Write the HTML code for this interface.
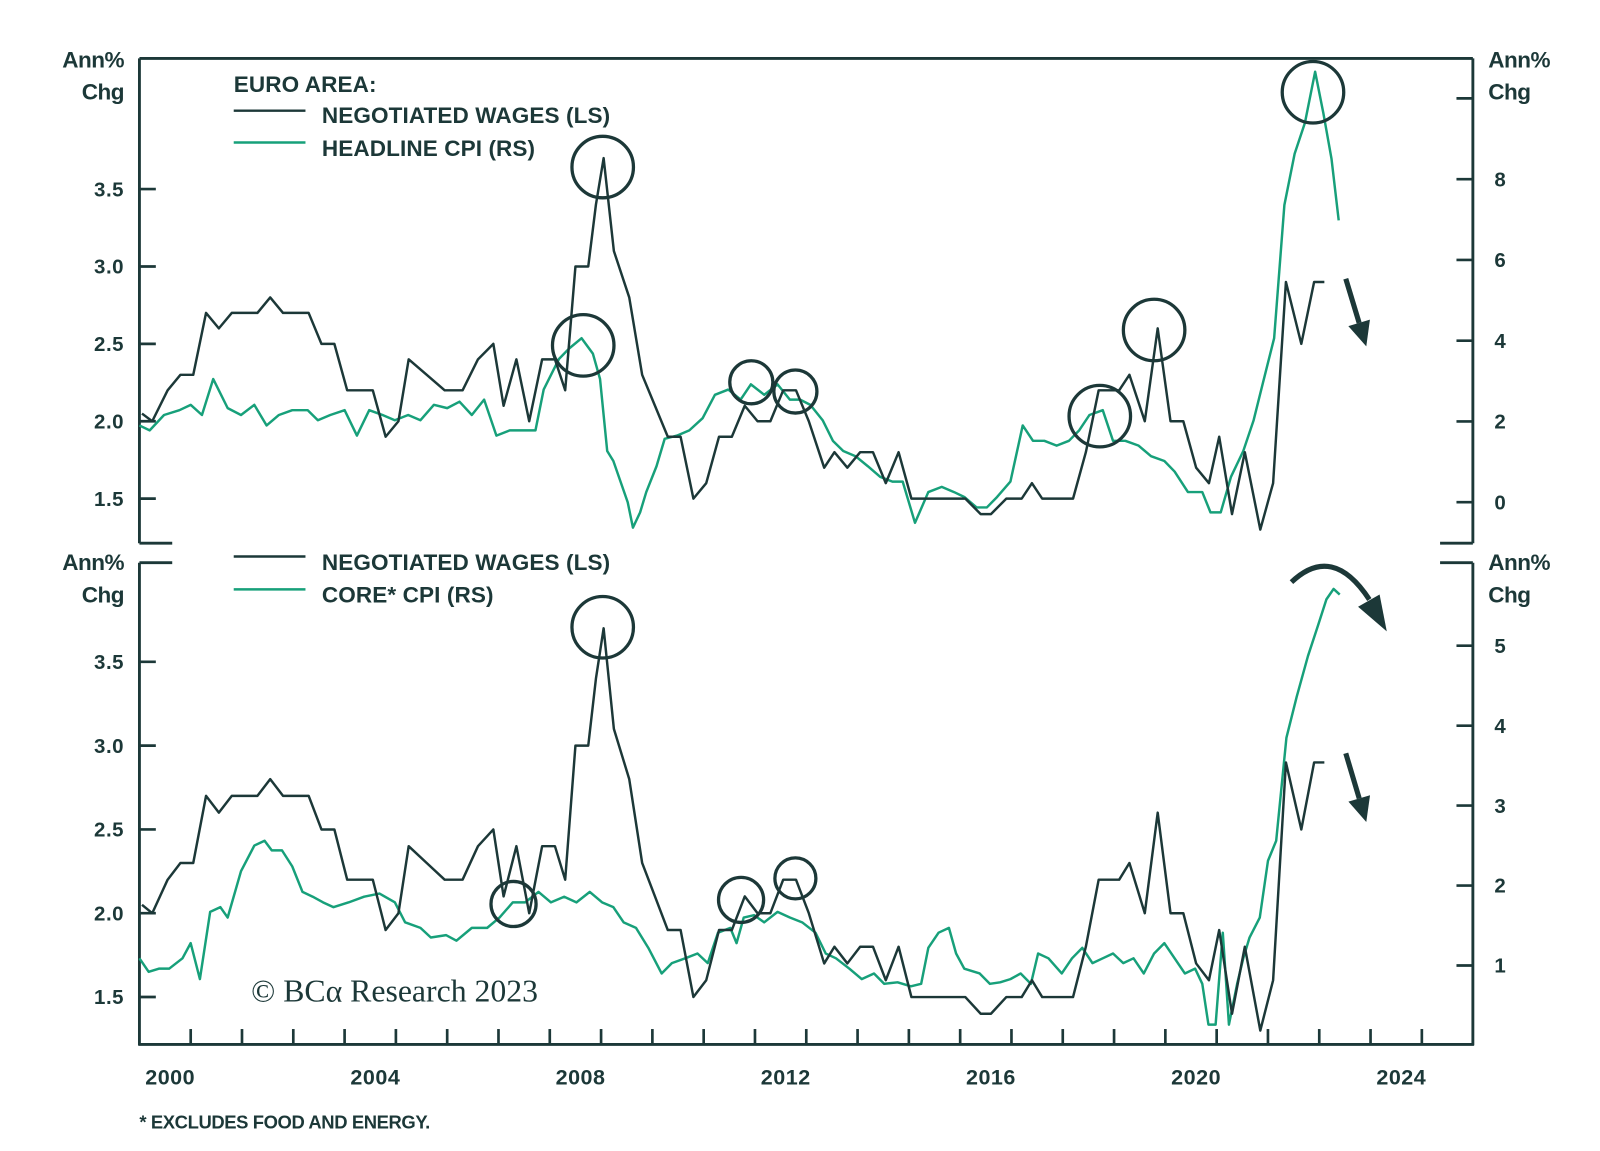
<!DOCTYPE html>
<html><head><meta charset="utf-8"><style>
html,body{margin:0;padding:0;background:#fff;}
svg{display:block;}
text{font-family:"Liberation Sans",sans-serif;font-weight:bold;fill:#1c3838;}
</style></head><body>
<svg id="chart" width="1600" height="1151" viewBox="0 0 1561 1123" xmlns="http://www.w3.org/2000/svg"></svg>
<script>
// ---- data ----
const wageYears = [1999.45,1999.65,1999.95,2000.2,2000.45,2000.7,2000.95,2001.2,2001.7,2001.95,2002.2,2002.7,2002.95,2003.2,2003.45,2003.95,2004.2,2004.45,2004.65,2005.0,2005.35,2005.7,2006.0,2006.3,2006.5,2006.75,2007.0,2007.25,2007.5,2007.7,2007.9,2008.15,2008.3,2008.45,2008.65,2008.95,2009.2,2009.45,2009.7,2009.95,2010.2,2010.45,2010.7,2010.95,2011.2,2011.45,2011.7,2011.95,2012.2,2012.45,2012.75,2012.95,2013.2,2013.45,2013.7,2013.95,2014.2,2014.45,2014.7,2015.2,2015.5,2015.8,2016.0,2016.3,2016.6,2016.8,2017.0,2017.6,2017.85,2018.1,2018.5,2018.7,2019.0,2019.25,2019.5,2019.75,2020.0,2020.25,2020.45,2020.7,2020.95,2021.25,2021.5,2021.75,2022.05,2022.3,2022.5];
const wageValues = [2.05,2.0,2.2,2.3,2.3,2.7,2.6,2.7,2.7,2.8,2.7,2.7,2.5,2.5,2.2,2.2,1.9,2.0,2.4,2.3,2.2,2.2,2.4,2.5,2.1,2.4,2.0,2.4,2.4,2.2,3.0,3.0,3.4,3.7,3.1,2.8,2.3,2.1,1.9,1.9,1.5,1.6,1.9,1.9,2.1,2.0,2.0,2.2,2.2,2.0,1.7,1.8,1.7,1.8,1.8,1.6,1.8,1.5,1.5,1.5,1.5,1.4,1.4,1.5,1.5,1.6,1.5,1.5,1.8,2.2,2.2,2.3,2.0,2.6,2.0,2.0,1.7,1.6,1.9,1.4,1.8,1.3,1.6,2.9,2.5,2.9,2.9];

const headlineYears = [1999.4,1999.6,1999.88,2000.18,2000.4,2000.62,2000.84,2001.12,2001.38,2001.64,2001.88,2002.12,2002.38,2002.68,2002.88,2003.12,2003.4,2003.64,2003.88,2004.14,2004.38,2004.64,2004.88,2005.14,2005.4,2005.64,2005.88,2006.12,2006.36,2006.62,2006.88,2007.12,2007.28,2007.58,2007.78,2008.02,2008.24,2008.38,2008.52,2008.64,2008.78,2008.92,2009.02,2009.16,2009.28,2009.48,2009.64,2009.88,2010.12,2010.38,2010.62,2010.88,2011.12,2011.32,2011.58,2011.84,2012.08,2012.28,2012.48,2012.72,2012.92,2013.12,2013.36,2013.6,2013.84,2014.08,2014.28,2014.52,2014.78,2015.04,2015.28,2015.48,2015.72,2015.92,2016.12,2016.38,2016.62,2016.82,2017.04,2017.28,2017.52,2017.72,2017.92,2018.18,2018.38,2018.62,2018.88,2019.12,2019.38,2019.58,2019.84,2020.12,2020.28,2020.48,2020.68,2020.92,2021.12,2021.32,2021.52,2021.72,2021.92,2022.12,2022.32,2022.48,2022.64,2022.78];
const headlineValues = [1.9,1.78,2.16,2.28,2.41,2.16,3.05,2.33,2.16,2.41,1.9,2.16,2.28,2.28,2.03,2.16,2.28,1.65,2.28,2.16,2.03,2.16,2.03,2.41,2.33,2.49,2.16,2.54,1.65,1.78,1.78,1.78,2.79,3.55,3.81,4.06,3.68,3.05,1.27,1.02,0.51,0.0,-0.63,-0.25,0.25,0.89,1.57,1.65,1.78,2.08,2.66,2.79,2.54,2.92,2.66,2.92,2.54,2.54,2.41,2.03,1.52,1.27,1.14,0.89,0.63,0.51,0.51,-0.51,0.25,0.38,0.25,0.13,-0.13,-0.13,0.13,0.51,1.9,1.52,1.52,1.4,1.52,1.78,2.16,2.28,1.52,1.52,1.4,1.14,1.02,0.76,0.25,0.25,-0.25,-0.25,0.63,1.27,2.03,3.05,4.06,7.36,8.63,9.39,10.66,9.64,8.5,6.98];

const coreYears = [1999.4,1999.58,1999.78,1999.98,2000.24,2000.4,2000.58,2000.78,2000.98,2001.12,2001.38,2001.64,2001.84,2001.98,2002.18,2002.38,2002.58,2002.78,2002.98,2003.18,2003.48,2003.78,2004.08,2004.38,2004.58,2004.88,2005.08,2005.38,2005.58,2005.88,2006.18,2006.42,2006.68,2006.92,2007.18,2007.42,2007.68,2007.92,2008.18,2008.42,2008.64,2008.84,2009.08,2009.32,2009.58,2009.78,2010.04,2010.28,2010.48,2010.68,2010.92,2011.04,2011.18,2011.38,2011.58,2011.84,2012.08,2012.32,2012.58,2012.78,2012.98,2013.24,2013.48,2013.72,2013.92,2014.18,2014.44,2014.64,2014.78,2014.98,2015.18,2015.32,2015.48,2015.78,2015.98,2016.18,2016.38,2016.58,2016.78,2016.92,2017.12,2017.38,2017.58,2017.78,2017.98,2018.18,2018.38,2018.58,2018.78,2018.98,2019.18,2019.38,2019.58,2019.78,2019.98,2020.12,2020.24,2020.38,2020.52,2020.64,2020.8,2020.92,2021.04,2021.24,2021.4,2021.56,2021.76,2021.96,2022.18,2022.38,2022.54,2022.68,2022.8];
const coreValues = [1.09,0.92,0.96,0.96,1.09,1.28,0.83,1.67,1.73,1.6,2.18,2.5,2.56,2.44,2.44,2.24,1.92,1.86,1.79,1.73,1.79,1.86,1.9,1.79,1.54,1.47,1.35,1.38,1.31,1.47,1.47,1.6,1.79,1.79,1.92,1.79,1.86,1.79,1.92,1.79,1.73,1.54,1.47,1.22,0.9,1.03,1.09,1.15,1.03,1.41,1.47,1.28,1.6,1.63,1.54,1.67,1.6,1.54,1.41,1.15,1.09,0.96,0.83,0.9,0.77,0.79,0.74,0.77,1.22,1.41,1.47,1.15,0.96,0.9,0.77,0.79,0.83,0.9,0.77,1.15,1.09,0.9,1.09,1.22,1.03,1.09,1.15,1.03,1.09,0.9,1.15,1.28,1.09,0.9,0.96,0.77,0.26,0.26,1.41,0.26,0.77,1.09,1.35,1.6,2.31,2.56,3.85,4.36,4.87,5.26,5.58,5.71,5.64];

const xTickLabels = ["2000","2004","2008","2012","2016","2020","2024"];
const leftTicks = ["1.5","2.0","2.5","3.0","3.5"];
const topRightTicks = ["0","2","4","6","8"];
const botRightTicks = ["1","2","3","4","5"];

// ---- scales ----
const DARK="#1c3838", GREEN="#17a07a";
const L=136, R=1437;
const x = y => 166 + (y-2000)*50.05;
const yTL = v => 411 - (v-2)*151;
const yTR = v => 490 - v*39.4;
const yBL = v => 891 - (v-2)*163.5;
const yBR = v => 942 - (v-1)*78;

const svg=document.getElementById('chart');
const NS="http://www.w3.org/2000/svg";
function el(tag,attrs,parent){const e=document.createElementNS(NS,tag);for(const k in attrs)e.setAttribute(k,attrs[k]);(parent||svg).appendChild(e);return e;}
function txt(s,x0,y0,anchor,size,name,extra){const t=el('text',Object.assign({x:x0,y:y0,'text-anchor':anchor,'font-size':size},extra||{}));t.textContent=s;


return t;}
function line(x1,y1,x2,y2,name,w,c){const l=el('line',{x1,y1,x2,y2,stroke:c||DARK,'stroke-width':w||2.6});


return l;}

// ---- frames ----
line(L,57,R,57,'top-frame-border',2.8);
line(L,57,L,530,'top-left-axis',2.8);
line(R,57,R,530,'top-right-axis',2.8);
line(L,530,L+32,530,'top-left-stub',2.8);
line(R-32,530,R,530,'top-right-stub',2.8);
line(L,549,L,1020,'bottom-left-axis',2.8);
line(R,549,R,1020,'bottom-right-axis',2.8);
line(L,549,L+32,549,'bottom-left-stub',2.8);
line(R-32,549,R,549,'bottom-right-stub',2.8);
line(L-1,1019,R+1,1019,'x-axis',2.8);

const ts={'letter-spacing':'0.5'};
leftTicks.forEach(s=>{const v=parseFloat(s);
 line(L,yTL(v),L+16,yTL(v),'top-left-tick');
 txt(s,121,yTL(v)+7,'end',20,'top-left-tick-label',ts);
 line(L,yBL(v),L+16,yBL(v),'bottom-left-tick');
 txt(s,121,yBL(v)+7,'end',20,'bottom-left-tick-label',ts);
});
topRightTicks.forEach(s=>{const v=parseFloat(s);
 line(R-16,yTR(v),R,yTR(v),'top-right-tick');
 txt(s,1458,yTR(v)+7,'start',20,'top-right-tick-label');
});
line(R-16,yTR(10),R,yTR(10),'top-right-tick');
botRightTicks.forEach(s=>{const v=parseFloat(s);
 line(R-16,yBR(v),R,yBR(v),'bottom-right-tick');
 txt(s,1458,yBR(v)+7,'start',20,'bottom-right-tick-label');
});
for(let k=0;k<25;k++){const xx=x(2000.4+k);line(xx,1004,xx,1019,'x-tick');}
xTickLabels.forEach(s=>txt(s,x(parseFloat(s)),1058,'middle',21,'x-tick-label',ts));

// axis titles
const as={'letter-spacing':'-0.5'};
txt('Ann%',121,66,'end',22,'top-left-axis-title',as);txt('Chg',121,97,'end',22,'top-left-axis-title',as);
txt('Ann%',1452,66,'start',22,'top-right-axis-title',as);txt('Chg',1452,97,'start',22,'top-right-axis-title',as);
txt('Ann%',121,556,'end',22,'bottom-left-axis-title',as);txt('Chg',121,588,'end',22,'bottom-left-axis-title',as);
txt('Ann%',1452,556,'start',22,'bottom-right-axis-title',as);txt('Chg',1452,588,'start',22,'bottom-right-axis-title',as);

// legends
const ls={'letter-spacing':'0.1'};
txt('EURO AREA:',228,90,'start',22,'legend-title',ls);
line(228,108,298,108,'legend-wages-swatch',2.4);txt('NEGOTIATED WAGES (LS)',314,120,'start',22,'legend-wages-label',ls);
line(228,139,298,139,'legend-headline-swatch',2.4,GREEN);txt('HEADLINE CPI (RS)',314,152,'start',22,'legend-headline-label',ls);
line(228,543,298,543,'legend-wages-swatch-bottom',2.4);txt('NEGOTIATED WAGES (LS)',314,556,'start',22,'legend-wages-label-bottom',ls);
line(228,575,298,575,'legend-core-swatch',2.4,GREEN);txt('CORE* CPI (RS)',314,588,'start',22,'legend-core-label',ls);

txt('* EXCLUDES FOOD AND ENERGY.',136,1101,'start',18,'footnote',{'letter-spacing':'-0.4'});
const cp=txt('© BCα Research 2023',245,977,'start',31,'copyright');
cp.setAttribute('style','font-family:"Liberation Serif",serif;font-weight:normal');

// ---- series ----
function series(xs,vs,fy,color,name){
 const d=xs.map((yr,i)=>(i?'L':'M')+x(yr).toFixed(1)+','+fy(vs[i]).toFixed(1)).join(' ');
 const p=el('path',{d,fill:'none',stroke:color,'stroke-width':2.4,'stroke-linejoin':'round'});
 
 
}
series(headlineYears,headlineValues,yTR,GREEN,'headline-cpi-line');
series(wageYears,wageValues,yTL,DARK,'wages-line-top');
series(coreYears,coreValues,yBR,GREEN,'core-cpi-line');
series(wageYears,wageValues,yBL,DARK,'wages-line-bottom');

// ---- annotations ----
function circ(cx,cy,r,name){const c=el('circle',{cx,cy,r,fill:'none',stroke:DARK,'stroke-width':3.2});
 
 }
circ(588,163,30,'circle-2008-wages-top');circ(569,337,30,'circle-2008-cpi');
circ(733,373,21,'circle-2011-a');circ(776,382,21,'circle-2012-a');
circ(1073,406,30,'circle-2018-cpi');circ(1126,322,30,'circle-2019-wages');
circ(1281,90,30,'circle-2022-cpi');
circ(588,612,30,'circle-2008-wages-bottom');circ(501,882,22,'circle-2006-core');
circ(723,878,22,'circle-2011-core');circ(776,857,20,'circle-2012-wages');

function arrow(x1,y1,x2,y2,name){
 const g=el('g',{});
 
 
 const a=Math.atan2(y2-y1,x2-x1),hl=24,hw=11;
 const bx=x2-hl*Math.cos(a),by=y2-hl*Math.sin(a);
 el('line',{x1,y1,x2:bx,y2:by,stroke:DARK,'stroke-width':5},g);
 const px=-Math.sin(a)*hw,py=Math.cos(a)*hw;
 el('polygon',{points:`${x2},${y2} ${bx+px},${by+py} ${bx-px},${by-py}`,fill:DARK},g);
}
arrow(1313,272,1333,338,'down-arrow-top');
arrow(1313,735,1333,802,'down-arrow-bottom');
const cg=el('g',{});


el('path',{d:'M1260,568 Q1300,530 1336,585',fill:'none',stroke:DARK,'stroke-width':5},cg);
el('polygon',{points:'1353,616 1325,592 1346,580',fill:DARK},cg);
</script>
</body></html>
